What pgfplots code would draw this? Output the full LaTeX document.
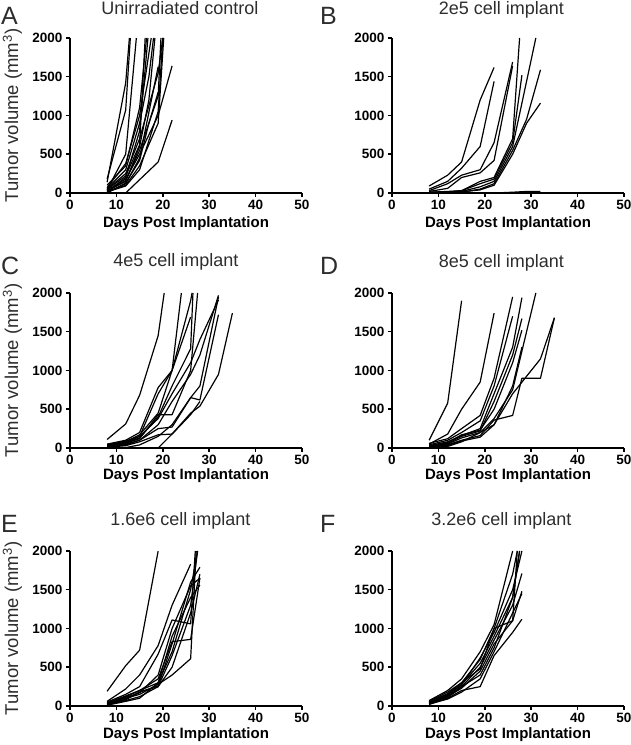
\documentclass[border=0pt]{standalone}
\usepackage{fontspec}
\setmainfont{Liberation Sans}
\usepackage{pgfplots}
\pgfplotsset{compat=1.18}
\definecolor{txt}{RGB}{45,45,45}
\pgfplotsset{panel/.style={
  scale only axis, width=232pt, height=155pt, anchor=south west,
  xmin=0, xmax=50, ymin=0, ymax=2000,
  axis lines=left, axis line style={-, line width=1.5pt, black},
  tick style={line width=1.5pt, black}, tick align=outside, major tick length=4pt,
  xtick={0,10,...,50}, ytick={0,500,...,2000},
  ticklabel style={font=\fontsize{13.5}{14}\selectfont\bfseries, black},
  /pgf/number format/assume math mode=true, /pgf/number format/1000 sep={},
  clip=true,
  every axis plot post/.append style={black, solid, mark=none, line width=1.2pt, line join=round},
}}
\begin{document}
\begin{tikzpicture}[x=1pt,y=1pt]
\path[use as bounding box] (0,0) rectangle (631,745);
% ---------- A ----------
\begin{axis}[panel, at={(70pt,552pt)}]
\addplot coordinates {(8,180)(12,1070)(13,2000)};
\addplot coordinates {(8,140)(12,1420)(12.8,2000)};
\addplot coordinates {(8,40)(12,500)(14.3,2000)};
\addplot coordinates {(8,100)(12,350)(15,1100)(16.5,2000)};
\addplot coordinates {(8,20)(12,200)(15,800)(16.8,2000)};
\addplot coordinates {(8,60)(12,300)(15,900)(17,1500)(18,2000)};
\addplot coordinates {(8,30)(12,150)(15,600)(17,1200)(18.3,2000)};
\addplot coordinates {(8,10)(12,120)(15,450)(19,1630)};
\addplot coordinates {(8,50)(12,250)(15,700)(19,1550)(20,2000)};
\addplot coordinates {(8,20)(12,100)(15,350)(19,900)(20.2,2000)};
\addplot coordinates {(8,30)(12,180)(15,500)(19,1000)(22,1640)};
\addplot coordinates {(12,0)(19,400)(22,940)};
\addplot coordinates {(8,0)(12,130)(15,420)(17,900)(19,1300)};
\addplot coordinates {(8,70)(12,380)(15,1000)(17.5,2000)};
\addplot coordinates {(8,15)(12,90)(15,300)(19,1050)(20,2000)};
\addplot coordinates {(8,45)(12,220)(15,620)(16.2,2000)};
\addplot coordinates {(8,25)(12,160)(15,550)(19,1250)(19.6,2000)};
\end{axis}
% ---------- B ----------
\begin{axis}[panel, at={(392pt,552pt)}]
\addplot coordinates {(8,90)(12,230)(15,400)(19,1200)(22,1620)};
\addplot coordinates {(8,50)(12,150)(15,320)(19,600)(22,1440)};
\addplot coordinates {(8,30)(12,120)(15,230)(19,300)(22,650)(26,1690)};
\addplot coordinates {(8,20)(12,60)(15,200)(19,260)(22,420)(26,1640)};
\addplot coordinates {(8,10)(12,20)(15,30)(19,150)(22,200)(26,700)(27.5,2000)};
\addplot coordinates {(8,10)(12,15)(15,30)(19,120)(22,180)(26,650)(28,1520)};
\addplot coordinates {(8,5)(12,10)(15,20)(19,80)(22,150)(26,600)(31,2000)};
\addplot coordinates {(8,5)(12,5)(15,10)(19,50)(22,120)(26,550)(29,950)(32,1590)};
\addplot coordinates {(8,5)(12,10)(15,15)(19,40)(22,100)(26,500)(29,900)(32,1160)};
\addplot coordinates {(8,0)(12,0)(15,0)(19,0)(22,0)(26,10)(29,20)(32,20)};
\addplot coordinates {(8,5)(12,2)(15,0)(19,0)(22,0)(26,0)(29,0)};
\end{axis}
% ---------- C ----------
\begin{axis}[panel, at={(70pt,297pt)}]
\addplot coordinates {(8,110)(12,310)(15,680)(19,1450)(20.3,2000)};
\addplot coordinates {(8,30)(12,80)(15,170)(19,450)(22,1000)(24,2000)};
\addplot coordinates {(8,40)(12,90)(15,150)(19,700)(22,1000)(26,1690)};
\addplot coordinates {(8,20)(12,70)(15,130)(19,400)(22,800)(26,1280)(26.5,2000)};
\addplot coordinates {(8,30)(12,60)(15,120)(19,430)(22,430)(26,1000)(27.5,2000)};
\addplot coordinates {(8,25)(12,50)(15,100)(19,300)(22,600)(26,950)(28,1200)(32,1970)};
\addplot coordinates {(8,35)(12,70)(15,150)(19,380)(22,700)(26,1100)(28,1400)(32,1910)};
\addplot coordinates {(8,15)(12,40)(15,100)(19,250)(22,270)(26,650)(28,620)(32,1720)};
\addplot coordinates {(8,10)(12,30)(15,80)(19,170)(22,180)(26,450)(28,540)(32,950)(35,1740)};
\addplot coordinates {(19,0)(22,180)(26,430)(28,600)};
\addplot coordinates {(8,10)(12,5)(15,40)(19,150)(22,300)(26,650)(28,800)(32,1950)};
\addplot coordinates {(8,50)(12,100)(15,200)(19,780)(22,1000)(26,1900)(26.3,2000)};
\end{axis}
% ---------- D ----------
\begin{axis}[panel, at={(392pt,297pt)}]
\addplot coordinates {(8,100)(12,580)(15,1900)};
\addplot coordinates {(8,50)(12,180)(15,500)(19,850)(22,1740)};
\addplot coordinates {(8,60)(12,120)(15,250)(19,420)(22,900)(26,1950)};
\addplot coordinates {(8,40)(12,100)(15,200)(19,350)(22,800)(26,1700)};
\addplot coordinates {(8,30)(12,80)(15,160)(19,250)(22,700)(26,1300)(28,1940)};
\addplot coordinates {(8,20)(12,60)(15,150)(19,220)(22,600)(26,1200)(28,1670)};
\addplot coordinates {(8,25)(12,70)(15,170)(19,230)(22,500)(26,1100)(28,1520)};
\addplot coordinates {(8,15)(12,50)(15,130)(19,200)(22,380)(26,750)(31,2000)};
\addplot coordinates {(8,10)(12,40)(15,100)(19,160)(22,360)(26,420)(28,900)(32,900)(35,1680)};
\addplot coordinates {(8,15)(12,30)(15,90)(19,140)(22,300)(26,700)(28,850)(32,1150)(35,1680)};
\addplot coordinates {(8,5)(12,20)(15,80)(19,200)(22,300)(26,800)(28,1300)};
\end{axis}
% ---------- E ----------
\begin{axis}[panel, at={(70pt,39pt)}]
\addplot coordinates {(8,190)(12,520)(15,720)(19,2000)};
\addplot coordinates {(8,60)(12,220)(15,400)(19,780)(22,1300)(26,1830)};
\addplot coordinates {(8,50)(12,150)(15,250)(19,670)(22,1110)(26,1060)(27,2000)};
\addplot coordinates {(8,40)(12,130)(15,200)(19,350)(22,830)(26,860)(28,1650)};
\addplot coordinates {(8,30)(12,100)(15,150)(19,280)(22,400)(26,610)(27.2,2000)};
\addplot coordinates {(8,20)(12,120)(15,200)(19,300)(22,700)(26,1500)(27.5,2000)};
\addplot coordinates {(8,25)(12,90)(15,180)(19,260)(22,800)(26,1600)(28,1790)};
\addplot coordinates {(8,10)(12,60)(15,100)(19,300)(22,900)(26,1400)(28,1560)};
\addplot coordinates {(8,15)(12,80)(15,180)(19,250)(22,650)(26,1300)(27.5,2000)};
\addplot coordinates {(8,35)(12,110)(15,170)(19,400)(22,1000)(26,1550)(28,1650)};
\addplot coordinates {(8,20)(12,70)(15,120)(19,250)(22,500)(26,1200)(28,1700)};
\end{axis}
% ---------- F ----------
\begin{axis}[panel, at={(392pt,39pt)}]
\addplot coordinates {(8,70)(12,200)(15,350)(19,700)(22,1050)(26,2000)};
\addplot coordinates {(8,60)(12,180)(15,300)(19,600)(22,1000)(26,1700)(27,2000)};
\addplot coordinates {(8,50)(12,150)(15,280)(19,550)(22,900)(26,1400)(27.5,2000)};
\addplot coordinates {(8,40)(12,130)(15,250)(19,500)(22,850)(26,1300)(28,1710)};
\addplot coordinates {(8,30)(12,120)(15,230)(19,450)(22,800)(26,1100)(28,1480)};
\addplot coordinates {(8,20)(12,100)(15,200)(19,250)(22,650)(26,950)(28,1120)};
\addplot coordinates {(8,50)(12,160)(15,300)(19,480)(22,1000)(26,1100)(27,2000)};
\addplot coordinates {(8,35)(12,110)(15,250)(19,400)(22,750)(26,1400)(27.5,2000)};
\addplot coordinates {(8,45)(12,140)(15,270)(19,620)(22,950)(26,1500)(28,2000)};
\addplot coordinates {(8,25)(12,90)(15,180)(19,350)(22,700)(26,1200)(28,1450)};
\end{axis}
% ---------- texts ----------
\begin{scope}[every node/.style={text=txt, inner sep=0pt}]
\node[anchor=base west, font=\fontsize{25}{25}\selectfont] at (1,720) {A};
\node[anchor=base west, font=\fontsize{25}{25}\selectfont] at (320,720) {B};
\node[anchor=base west, font=\fontsize{25}{25}\selectfont] at (1,470) {C};
\node[anchor=base west, font=\fontsize{25}{25}\selectfont] at (320,470) {D};
\node[anchor=base west, font=\fontsize{25}{25}\selectfont] at (1,212) {E};
\node[anchor=base west, font=\fontsize{25}{25}\selectfont] at (320,212) {F};
\node[anchor=base, font=\fontsize{18}{18}\selectfont] at (180,730) {Unirradiated control};
\node[anchor=base, font=\fontsize{18}{18}\selectfont] at (501.5,730) {2e5 cell implant};
\node[anchor=base, font=\fontsize{18}{18}\selectfont] at (176,478) {4e5 cell implant};
\node[anchor=base, font=\fontsize{18}{18}\selectfont] at (501.5,477) {8e5 cell implant};
\node[anchor=base, font=\fontsize{18}{18}\selectfont] at (180.5,219) {1.6e6 cell implant};
\node[anchor=base, font=\fontsize{18}{18}\selectfont] at (501.5,219) {3.2e6 cell implant};
\foreach \yc in {629.5,374.5,116.5}
  \node[rotate=90, font=\fontsize{18.5}{18.5}\selectfont] at (12.5,\yc) {Tumor volume (mm\textsuperscript{3})};
\foreach \xc/\yc in {186/521.5,508/521.5,186/269,508/269,186/10,508/10}
  \node[text=black, font=\fontsize{15}{15}\selectfont\bfseries] at (\xc,\yc) {Days Post Implantation};
\end{scope}
\end{tikzpicture}
\end{document}
